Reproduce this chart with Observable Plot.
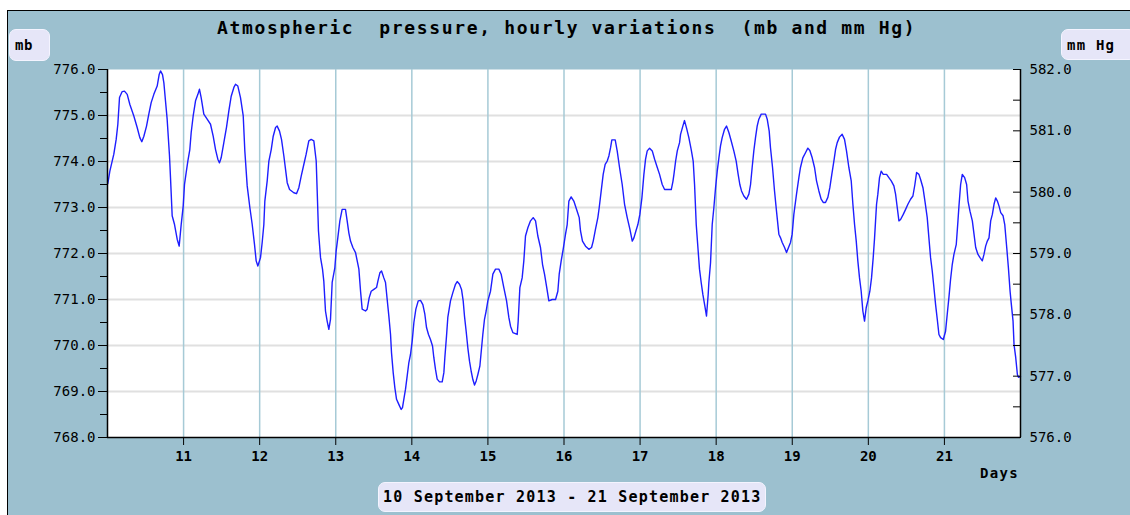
<!DOCTYPE html>
<html><head><meta charset="utf-8">
<script src="https://cdn.jsdelivr.net/npm/d3@7"></script>
<script src="https://cdn.jsdelivr.net/npm/@observablehq/plot@0.6"></script>
<style>
html,body{margin:0;padding:0;background:#fff;}
#wrap{position:relative;width:1130px;height:515px;overflow:hidden;font-family:"DejaVu Sans Mono",monospace;color:#000;}
#panel{position:absolute;left:7px;top:10px;right:0;bottom:0;background:#9cc0cf;border-left:1.5px solid #000;border-top:1.5px solid #000;}
#chart{position:absolute;left:0;top:0;}
.lbl{position:absolute;font-weight:bold;white-space:pre;line-height:1;}
.box{position:absolute;background:#e6e6f8;border:1.5px solid #f4f4ff;border-radius:7px;box-sizing:border-box;font-weight:bold;white-space:pre;display:flex;align-items:center;line-height:1;}
</style></head>
<body>
<div id="wrap">
  <div id="panel"></div>
  <div id="chart"></div>
  <div class="lbl" id="title" style="left:217px;top:19px;font-size:18px;letter-spacing:1.65px;"></div>
  <div class="box" id="boxL" style="left:9px;top:29px;width:41px;height:32px;padding-left:5px;font-size:14px;letter-spacing:0.6px;"></div>
  <div class="box" id="boxR" style="left:1061px;top:29px;width:75px;height:31px;padding-left:5px;font-size:14px;letter-spacing:1.2px;"></div>
  <div class="lbl" id="days" style="left:980px;top:466px;font-size:14px;letter-spacing:1.3px;"></div>
  <div class="box" id="boxD" style="left:378px;top:482px;width:388px;height:30px;padding-left:4px;font-size:15px;letter-spacing:1.2px;"></div>
</div>
<script>
// Texts
const titleText = "Atmospheric  pressure, hourly variations  (mb and mm Hg)";
const leftUnit = "mb";
const rightUnit = "mm Hg";
const xUnit = "Days";
const periodText = "10 September 2013 - 21 September 2013";

// Tick values
const dayTicks = [11, 12, 13, 14, 15, 16, 17, 18, 19, 20, 21];
const mbTicks = [768, 769, 770, 771, 772, 773, 774, 775, 776];
const mbHalfTicks = [768.5, 769.5, 770.5, 771.5, 772.5, 773.5, 774.5, 775.5];
const mbGrid = [769, 770, 771, 772, 773, 774, 775];
const mmTicks = [576, 577, 578, 579, 580, 581, 582];
const mmHalfTicks = [576.5, 577.5, 578.5, 579.5, 580.5, 581.5];

// Readings: [day (fractional), pressure mb]
const sep10 = [[10.004,773.52],[10.031,773.79],[10.083,774.16],[10.114,774.48],[10.136,774.81],[10.158,775.39],[10.193,775.52],[10.223,775.53],[10.259,775.46],[10.294,775.24],[10.346,774.99],[10.390,774.74],[10.425,774.52],[10.451,774.43],[10.478,774.55],[10.513,774.77],[10.543,775.03],[10.574,775.28],[10.609,775.46],[10.653,775.64],[10.679,775.89],[10.697,775.97],[10.723,775.89],[10.741,775.71],[10.762,775.32],[10.784,774.92],[10.815,774.12],[10.828,773.65],[10.850,772.82],[10.881,772.63],[10.916,772.31],[10.942,772.16],[10.968,772.62],[10.995,773.03]];
const sep11 = [[11.012,773.50],[11.034,773.76],[11.056,774.01],[11.082,774.26],[11.100,774.63],[11.126,774.99],[11.157,775.32],[11.188,775.46],[11.209,775.57],[11.231,775.39],[11.266,775.03],[11.310,774.92],[11.354,774.81],[11.389,774.55],[11.420,774.26],[11.450,774.05],[11.472,773.97],[11.494,774.08],[11.529,774.41],[11.564,774.74],[11.595,775.10],[11.626,775.42],[11.661,775.61],[11.683,775.68],[11.713,775.64],[11.748,775.39],[11.784,774.99],[11.805,774.23],[11.836,773.47],[11.871,773.00],[11.902,772.63],[11.932,772.20],[11.954,771.84],[11.976,771.73]];
const sep12 = [[12.011,771.91],[12.033,772.24],[12.055,772.63],[12.068,773.14],[12.099,773.58],[12.121,774.01],[12.152,774.26],[12.178,774.55],[12.209,774.74],[12.230,774.77],[12.261,774.66],[12.287,774.48],[12.318,774.12],[12.340,773.83],[12.362,773.54],[12.393,773.39],[12.449,773.32],[12.484,773.30],[12.515,773.43],[12.546,773.68],[12.581,773.94],[12.611,774.16],[12.646,774.45],[12.677,774.48],[12.712,774.45],[12.743,774.01],[12.756,773.36],[12.773,772.49],[12.800,771.91],[12.826,771.66],[12.843,771.40],[12.865,770.75],[12.887,770.53],[12.909,770.35],[12.931,770.57],[12.953,771.37],[12.988,771.69]];
const sep13 = [[13.005,772.05],[13.027,772.34],[13.054,772.71],[13.084,772.96],[13.128,772.96],[13.150,772.71],[13.172,772.45],[13.194,772.27],[13.225,772.13],[13.260,772.02],[13.282,771.84],[13.304,771.66],[13.326,771.18],[13.347,770.79],[13.391,770.75],[13.413,770.79],[13.440,771.04],[13.466,771.18],[13.501,771.22],[13.536,771.26],[13.554,771.40],[13.580,771.58],[13.602,771.62],[13.632,771.47],[13.654,771.37],[13.676,771.00],[13.698,770.64],[13.720,770.24],[13.733,769.84],[13.755,769.41],[13.777,769.08],[13.799,768.83],[13.829,768.72],[13.860,768.61],[13.877,768.65],[13.899,768.87],[13.917,769.05],[13.939,769.34],[13.961,769.63],[13.983,769.81]];
const sep14 = [[14.005,770.10],[14.027,770.50],[14.053,770.79],[14.084,770.97],[14.114,770.98],[14.145,770.89],[14.171,770.68],[14.193,770.39],[14.219,770.24],[14.245,770.13],[14.272,769.99],[14.289,769.74],[14.311,769.48],[14.333,769.27],[14.364,769.21],[14.399,769.21],[14.421,769.41],[14.434,769.74],[14.456,770.21],[14.473,770.61],[14.508,770.97],[14.539,771.15],[14.574,771.33],[14.596,771.39],[14.627,771.33],[14.653,771.22],[14.675,770.97],[14.692,770.64],[14.714,770.31],[14.736,769.95],[14.758,769.66],[14.780,769.44],[14.802,769.26],[14.824,769.14],[14.846,769.23],[14.868,769.37],[14.894,769.55],[14.933,770.24],[14.955,770.57],[14.977,770.75],[14.999,770.97]];
const sep15 = [[15.034,771.18],[15.065,771.55],[15.100,771.66],[15.144,771.66],[15.174,771.55],[15.209,771.26],[15.245,770.97],[15.275,770.61],[15.297,770.42],[15.328,770.28],[15.385,770.24],[15.398,770.53],[15.420,771.26],[15.450,771.47],[15.472,771.84],[15.494,772.38],[15.525,772.56],[15.560,772.71],[15.595,772.78],[15.626,772.71],[15.656,772.38],[15.691,772.13],[15.718,771.76],[15.744,771.55],[15.770,771.29],[15.801,770.97],[15.845,771.00],[15.889,771.00],[15.919,771.18],[15.937,771.55],[15.963,771.84],[15.989,772.09]];
const sep16 = [[16.020,772.42],[16.042,772.63],[16.064,773.14],[16.094,773.23],[16.129,773.14],[16.173,772.92],[16.200,772.78],[16.217,772.49],[16.243,772.27],[16.283,772.16],[16.327,772.09],[16.362,772.13],[16.384,772.27],[16.414,772.53],[16.445,772.78],[16.463,773.00],[16.489,773.36],[16.515,773.72],[16.541,773.94],[16.568,774.01],[16.590,774.12],[16.612,774.30],[16.629,774.47],[16.673,774.47],[16.699,774.23],[16.730,773.87],[16.765,773.50],[16.796,773.07],[16.831,772.78],[16.866,772.53],[16.897,772.27],[16.919,772.34],[16.945,772.49],[16.971,772.63],[16.997,772.85]];
const sep17 = [[17.024,773.21],[17.050,773.72],[17.072,774.05],[17.094,774.23],[17.125,774.29],[17.160,774.23],[17.191,774.05],[17.226,773.87],[17.256,773.72],[17.291,773.50],[17.322,773.39],[17.357,773.39],[17.410,773.39],[17.432,773.57],[17.445,773.72],[17.467,774.01],[17.489,774.23],[17.519,774.41],[17.532,774.59],[17.562,774.77],[17.584,774.89],[17.610,774.73],[17.641,774.52],[17.672,774.26],[17.698,774.01],[17.716,773.50],[17.738,772.63],[17.760,772.13],[17.781,771.66],[17.803,771.37],[17.825,771.11],[17.851,770.86],[17.873,770.64],[17.895,771.11],[17.904,771.37],[17.926,771.80],[17.948,772.63],[17.970,773.00],[17.992,773.43]];
const sep18 = [[18.014,773.79],[18.036,774.08],[18.057,774.34],[18.079,774.52],[18.110,774.70],[18.136,774.77],[18.167,774.63],[18.197,774.45],[18.232,774.23],[18.263,774.01],[18.289,773.72],[18.311,773.50],[18.333,773.36],[18.364,773.25],[18.399,773.18],[18.430,773.29],[18.452,773.50],[18.473,773.87],[18.495,774.23],[18.517,774.52],[18.539,774.77],[18.561,774.92],[18.592,775.03],[18.649,775.03],[18.671,774.92],[18.697,774.66],[18.714,774.30],[18.741,773.87],[18.767,773.36],[18.793,772.92],[18.824,772.42],[18.846,772.34],[18.868,772.24],[18.899,772.13],[18.925,772.02],[18.951,772.13],[18.977,772.24],[18.999,772.42]];
const sep19 = [[19.021,772.85],[19.056,773.29],[19.087,773.65],[19.108,773.87],[19.139,774.08],[19.174,774.19],[19.205,774.29],[19.231,774.24],[19.262,774.08],[19.293,773.87],[19.319,773.58],[19.350,773.36],[19.380,773.18],[19.407,773.11],[19.437,773.11],[19.468,773.22],[19.494,773.43],[19.520,773.72],[19.547,774.01],[19.569,774.26],[19.591,774.41],[19.621,774.53],[19.656,774.59],[19.687,774.48],[19.713,774.23],[19.744,773.87],[19.775,773.58],[19.797,773.07],[19.819,772.63],[19.841,772.27],[19.862,771.84],[19.884,771.47],[19.906,771.18],[19.928,770.75],[19.950,770.53],[19.972,770.82],[19.994,770.97]];
const sep20 = [[20.020,771.18],[20.042,771.47],[20.064,771.91],[20.082,772.34],[20.095,772.71],[20.108,773.07],[20.125,773.29],[20.147,773.65],[20.169,773.79],[20.196,773.72],[20.240,773.72],[20.270,773.65],[20.301,773.58],[20.336,773.47],[20.358,773.29],[20.380,773.00],[20.402,772.71],[20.424,772.74],[20.459,772.85],[20.490,772.96],[20.520,773.07],[20.555,773.18],[20.586,773.25],[20.612,773.50],[20.634,773.76],[20.665,773.72],[20.687,773.61],[20.718,773.43],[20.744,773.14],[20.774,772.78],[20.796,772.34],[20.818,771.91],[20.840,771.62],[20.862,771.26],[20.884,770.89],[20.906,770.57],[20.928,770.24],[20.950,770.17],[20.985,770.13]];
const sep21 = [[21.015,770.31],[21.037,770.68],[21.059,771.04],[21.081,771.44],[21.103,771.76],[21.125,771.98],[21.156,772.20],[21.178,772.71],[21.191,773.03],[21.213,773.50],[21.235,773.72],[21.266,773.65],[21.292,773.50],[21.310,773.14],[21.336,772.92],[21.367,772.71],[21.389,772.42],[21.411,772.13],[21.441,771.98],[21.468,771.91],[21.498,771.84],[21.520,771.98],[21.542,772.16],[21.564,772.27],[21.586,772.34],[21.608,772.71],[21.630,772.85],[21.652,773.07],[21.674,773.21],[21.696,773.14],[21.718,773.03],[21.740,772.89],[21.771,772.82],[21.793,772.63],[21.819,772.13],[21.841,771.69],[21.863,771.18],[21.880,770.89],[21.902,770.53],[21.915,770.02],[21.937,769.74],[21.959,769.37],[21.973,769.31],[22.000,769.33]];

const series = [sep10, sep11, sep12, sep13, sep14, sep15, sep16, sep17, sep18, sep19, sep20, sep21]
  .flat().map(([t, mb]) => ({t, mb}));

// mm Hg axis is a linear re-labelling of the mb axis (576–582 over 768–776)
const toMm = mb => 576 + (mb - 768) * 0.75;
const toMb = mm => 768 + (mm - 576) / 0.75;

document.getElementById("title").textContent = titleText;
document.getElementById("boxL").textContent = leftUnit;
document.getElementById("boxR").textContent = rightUnit;
document.getElementById("days").textContent = xUnit;
document.getElementById("boxD").textContent = periodText;

const chart = Plot.plot({
  width: 1130, height: 515,
  marginLeft: 107, marginRight: 110, marginTop: 69, marginBottom: 78,
  x: {type: "linear", domain: [10, 22]},
  y: {type: "linear", domain: [768, 776]},
  style: {background: "transparent", fontFamily: '"DejaVu Sans Mono", monospace', fontSize: "14px", color: "#000", overflow: "visible"},
  marks: [
    Plot.frame({fill: "#ffffff", stroke: "none"}),
    Plot.ruleY(mbGrid, {stroke: "#e0e0e0", strokeWidth: 2}),
    Plot.ruleX(dayTicks, {stroke: "#a6cad6", strokeWidth: 1.5}),
    Plot.line(series, {x: "t", y: "mb", stroke: "#1e1eff", strokeWidth: 1.4}),
    Plot.ruleX([10, 22], {stroke: "#000", strokeWidth: 1.5}),
    Plot.ruleY([768], {stroke: "#000", strokeWidth: 1.5}),
    Plot.axisX(dayTicks, {anchor: "bottom", tickSize: 8, tickPadding: 6, fontWeight: "bold", label: null, tickFormat: d => String(d)}),
    Plot.axisY(mbHalfTicks, {anchor: "left", tickSize: 7, tickFormat: () => "", label: null}),
    Plot.axisY(mbTicks, {anchor: "left", tickSize: 9, tickPadding: 3, tickFormat: d => d.toFixed(1), label: null}),
    Plot.axisY(mmHalfTicks.map(toMb), {anchor: "right", tickSize: -8, tickFormat: () => "", label: null}),
    Plot.axisY(mmTicks.map(toMb), {anchor: "right", tickSize: -8, tickPadding: 17, tickFormat: d => toMm(d).toFixed(1), label: null})
  ]
});
document.getElementById("chart").appendChild(chart);
</script>
</body></html>
